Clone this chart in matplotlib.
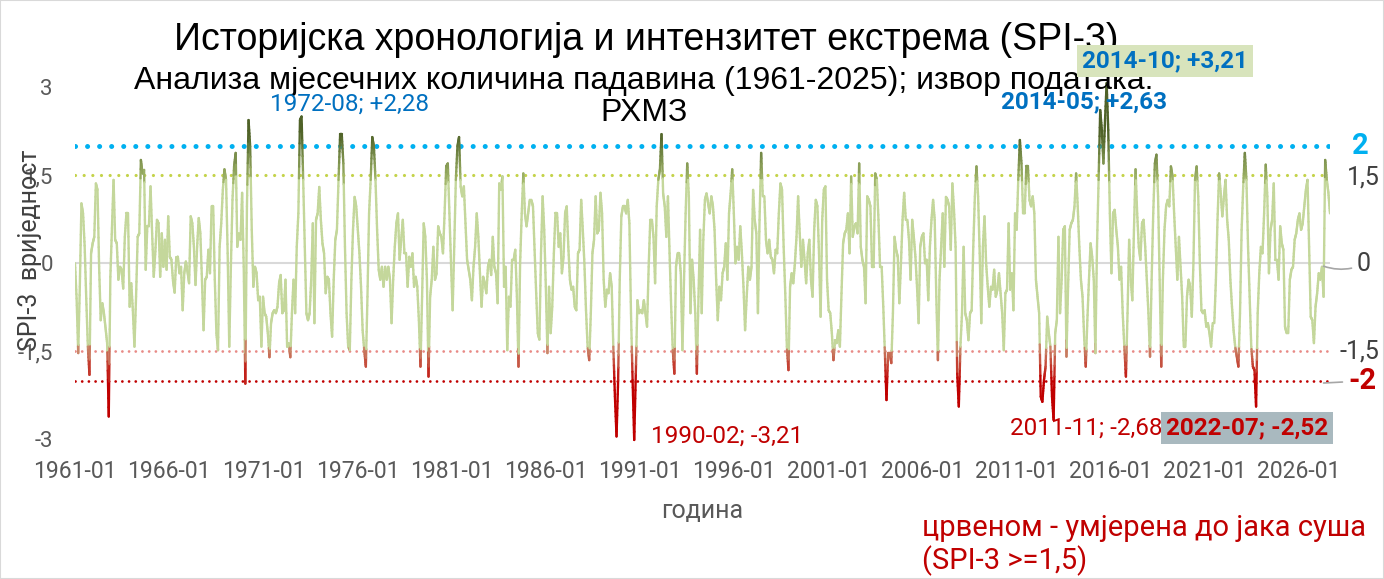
import numpy as np
import pandas as pd
import matplotlib
matplotlib.use('Agg')
import matplotlib.pyplot as plt
from matplotlib.collections import LineCollection
from matplotlib.colors import to_rgb

# SPI-3, monthly values (1961-01 onward)
spi_1961_1966 = [0.0, -0.6, -1.53, -0.4, 1.02, 0.85, 0.3, -0.6, -1.42, -1.9, 0.17, 0.34,
                 0.45, 1.36, 1.25, -0.05, -0.97, -0.68, -0.85, -1.1, -1.36, -2.61, -0.23, 0.6,
                 1.42, 0.4, 0.34, -0.28, -0.06, -0.11, -0.43, 0.45, 0.85, 0.85, -0.74, -0.34,
                 -0.8, -1.42, -0.57, 0.45, 0.51, 1.76, 1.53, 1.59, -0.11, 0.63, 0.63, 1.31,
                 0.51, -0.23, 0.2, 0.74, 0.68, -0.23, 0.51, -0.06, 0.4, -0.11, 0.8, 0.11,
                 0.06, -0.3, -0.5, 0.1]
spi_1966_1971 = [0.11, -0.17, -0.06, -0.8, -0.17, 0.03, -0.14, -0.34, 0.8, 0.68, 0.28, -0.37,
                 0.28, 0.77, 0.51, -0.28, -1.14, -0.28, -0.23, 0.23, -0.17, 0.97, 0.97, -0.28,
                 -1.19, -1.48, 0.28, 0.68, 1.25, 1.6, 1.42, 0.17, -1.42, -0.06, 1.08, 1.65,
                 1.88, 0.28, 0.51, 0.4, 1.2, -0.06, -2.05, 0.97, 2.44, 1.99, 0.57, -0.4,
                 -0.06, -0.17, -0.63, -0.57, -1.42, -0.57, -0.85, -0.91, -1.19, -1.6, -1.02, -0.85,
                 -0.8, -0.85, -0.74, -0.34, -0.2]
spi_1971_1977 = [-0.85, -0.8, -0.28, -1.42, -1.36, -1.6, -0.85, -0.28, -0.85, 0.28, 0.85, 2.44,
                 2.5, 1.42, 0.28, -0.85, -0.97, -0.85, -0.28, 0.68, -1.02, 0.74, 0.85, 1.3,
                 0.74, 0.34, 0.17, -0.51, -0.23, -0.28, -0.85, -1.25, -0.28, 0.4, 0.57, 1.42,
                 2.2, 2.2, 1.7, 0.28, -0.85, -1.42, -1.48, -0.28, 0.57, 1.13, 0.97, 0.57,
                 0.17, -0.4, -1.14, -1.48, -1.76, -0.57, 0.85, 1.42, 2.15, 1.99, 1.42, 0.57,
                 -0.11, -0.28, -0.06, -0.4, -0.06]
spi_1977_1982 = [-0.28, -0.06, -0.28, -1.02, -0.28, 0.28, 0.68, 0.85, 0.06, 0.4, 0.74, 0.17,
                 0.17, -0.4, 0.11, -0.06, 0.17, -0.4, -0.23, -0.4, -0.97, -1.76, -0.57, 0.68,
                 0.45, -0.28, -1.93, -0.57, -0.28, 0.28, -0.28, -0.17, 0.63, 0.51, 0.45, 0.17,
                 0.85, 1.65, 1.7, 0.85, 0.0, -0.8, 0.28, 1.42, 1.99, 2.15, 1.31, 1.14,
                 1.31, 0.68, 0.06, -0.11, -0.28, -0.63, -0.06, 0.28, 0.85, 0.45, -0.17, -0.74,
                 -0.23, -0.34, -0.51, -0.06, 0.06, -0.2]
spi_1982_1987 = [0.45, -0.06, -0.17, -0.68, 1.36, 1.25, 1.48, -0.4, -0.06, -1.48, -0.57, -0.74,
                 0.06, 0.06, 0.23, -0.57, -1.76, 0.0, 0.85, 1.53, 0.85, 0.63, 0.85, 1.08,
                 1.08, 0.97, 0.23, -0.51, -1.19, -1.3, 0.17, 1.14, 0.57, -0.4, -1.53, -0.4,
                 -1.19, -0.74, 0.17, 0.85, 0.85, 0.28, 0.51, -0.17, 0.11, 0.85, 0.97, 0.28,
                 -0.28, -0.45, -0.4, -0.74, -0.8, 0.17, 0.23, 1.08, 0.57, 0.0, -0.8, -1.42,
                 -1.65, -0.85, 0.17, 0.4, 1.14]
spi_1987_1993 = [0.51, 0.57, 1.2, 0.85, -0.28, -0.74, -0.45, -0.51, -0.17, -0.4, -1.42, -2.27,
                 -2.95, -1.99, -0.28, 0.8, 0.97, 0.97, 0.85, 1.08, 0.68, -0.85, -1.99, -3.01,
                 -1.88, -0.63, -0.85, -0.8, -0.85, -0.63, -0.85, -1.08, -0.06, 0.74, 0.74, 0.45,
                 -0.34, 0.97, 1.42, 1.6, 2.2, 1.19, 0.97, 0.45, 1.14, 0.17, -0.74, -1.48,
                 -1.88, -0.06, 0.17, 0.17, -0.17, -1.48, -0.28, 0.85, 1.7, 1.14, -0.85, 0.06,
                 -0.28, -0.85, -1.88, -0.57, 0.57]
spi_1993_1998 = [-0.85, 0.4, 1.08, 1.19, 1.02, 0.85, 1.14, 0.97, 0.57, -0.28, -0.97, -0.4,
                 -0.63, -0.17, -0.06, 0.34, -0.28, 0.85, 1.19, 1.6, 0.85, 0.0, 0.28, 0.06,
                 0.63, 0.17, -0.4, -1.14, -0.57, -0.06, -0.28, -0.06, 1.25, 0.74, 0.51, -0.85,
                 0.74, 1.88, 1.14, 1.14, 0.4, 0.17, 0.4, 0.11, 0.06, -0.17, 0.23, 0.17,
                 0.85, 1.36, 1.25, 0.28, -0.51, -1.42, -1.82, -0.4, -0.17, -0.34, 0.0, 0.45,
                 1.14, 0.51, -0.06, 0.4, 0.06]
spi_1998_2004 = [-0.34, 0.17, 0.4, -0.28, -0.57, 0.57, 1.08, 0.97, 0.17, -0.91, 0.74, 1.25,
                 1.31, -0.28, -0.8, -0.85, -1.19, -1.65, -1.31, -1.36, -1.14, -1.42, -0.51, 0.34,
                 0.51, 0.57, 0.85, 0.17, 1.48, 0.45, 0.63, 0.68, 0.51, 1.7, 0.28, 0.06,
                 -0.06, -0.68, 1.14, 1.08, 0.97, -0.06, -0.06, 1.53, 1.42, 0.74, -0.06, -0.06,
                 -0.74, -1.53, -2.33, -1.53, -1.53, -1.7, -0.85, 0.45, 0.23, 0.11, -0.68, 0.0,
                 0.74, 1.2, 0.74, 0.74, 0.4, -0.28]
spi_2004_2009 = [0.74, 0.45, 0.11, -0.4, -1.02, 0.28, 0.45, 0.51, 0.0, 0.06, -0.63, 0.28,
                 0.74, 1.08, 0.74, -0.57, -1.65, -0.28, 0.28, 0.85, -0.06, 1.13, 1.08, 0.97,
                 0.23, 1.36, 0.91, 0.28, -1.88, -2.44, -1.42, -0.85, 0.28, -0.85, -0.97, -1.31,
                 -0.85, -0.8, 0.28, 1.14, 1.65, 1.14, 0.17, -1.02, 0.28, 0.8, 0.0, -0.4,
                 -0.74, -0.4, -0.45, -0.11, -0.57, -0.45, -0.17, -0.51, -0.85, -1.48, -0.51, -0.45,
                 0.68, -0.45, -0.17, -0.8, 0.85]
spi_2009_2015 = [0.57, 1.42, 2.1, 1.7, 0.85, 0.85, 1.65, 1.65, 1.08, 0.97, 1.14, 0.85,
                 -0.28, -0.57, -0.85, -2.27, -2.36, -1.99, -1.76, -0.91, -1.19, -1.42, -2.27, -2.67,
                 -1.19, -0.97, 0.45, -0.85, -0.28, 0.57, 0.63, -1.59, -0.4, 0.57, 0.68, 0.74,
                 0.97, 1.53, 0.97, 0.28, -0.28, -0.57, -1.25, -1.76, -0.97, -0.28, 0.34, 0.11,
                 -0.28, -1.53, 0.28, 1.42, 2.61, 2.27, 1.7, 2.44, 3.07, 2.27, 0.85, -0.17,
                 0.85, 0.91, 0.57, 0.28, -0.28]
spi_2015_2020 = [-0.06, -0.85, -1.42, -1.93, -0.85, 0.4, -0.28, -0.63, 0.57, 1.6, 0.85, 0.28,
                 0.06, 0.68, 0.74, 0.28, -0.28, -0.85, -1.59, -0.28, 0.85, 1.7, 1.85, 1.14,
                 -0.28, -1.76, -0.28, 0.57, 0.97, 1.08, 0.97, 1.65, 1.48, 0.85, 0.28, -0.28,
                 0.45, -0.06, -0.57, -1.42, -1.42, -0.57, -0.28, -0.4, -0.91, 0.0, 1.42, 1.65,
                 1.14, 0.0, -0.8, -0.85, -0.8, -1.08, -1.02, -1.19, -1.42, -1.02, -1.02, -0.28,
                 0.74, 1.53, 1.19, 0.8, 1.14]
spi_2020_2025 = [1.42, 0.74, 0.4, -0.28, -0.74, -1.14, -1.42, -1.59, -1.76, -0.85, 0.57, 1.31,
                 1.88, 1.42, 0.28, -0.57, -1.42, -1.76, -1.82, -2.44, -0.85, -0.17, 0.28, 0.17,
                 0.85, 1.68, 1.14, -0.17, 0.57, 0.74, 1.36, 0.06, 0.06, -0.28, 0.63, 0.34,
                 0.23, -1.08, -1.19, -1.19, -0.28, -0.11, -0.06, 0.4, 0.51, 0.74, 0.85, 0.57,
                 0.68, 0.97, 1.25, 1.42, 0.28, -0.91, -0.97, -1.36, -0.74, -0.51, -0.17, -0.28,
                 -0.06, -0.57, 1.76, 1.42, 1.2, 0.85]

x_tick_labels = ['1961-01', '1966-01', '1971-01', '1976-01', '1981-01', '1986-01', '1991-01',
                 '1996-01', '2001-01', '2006-01', '2011-01', '2016-01', '2021-01', '2026-01']
y_ticks = [3, 1.5, 0, -1.5, -3]
y_tick_labels = ['3', '1,5', '0', '-1,5', '-3']

spi = np.array(spi_1961_1966 + spi_1966_1971 + spi_1971_1977 + spi_1977_1982 +
               spi_1982_1987 + spi_1987_1993 + spi_1993_1998 + spi_1998_2004 +
               spi_2004_2009 + spi_2009_2015 + spi_2015_2020 + spi_2020_2025)
n = len(spi)
months = pd.date_range('1961-01', periods=n, freq='MS')
x = np.arange(n)

LIGHT = np.array(to_rgb('#c4d79b'))
OLIVE = np.array(to_rgb('#a3b86c'))
DARK = np.array(to_rgb('#4f6228'))
BROWN = np.array(to_rgb('#c98a6c'))
RED = np.array(to_rgb('#c00000'))


def colour_for(v):
    if v >= 1.4:
        t = min((v - 1.4) / 0.8, 1.0)
        return OLIVE * (1 - t) + DARK * t
    if v <= -1.45:
        t = min((-v - 1.45) / 0.55, 1.0)
        return BROWN * (1 - t) + RED * t
    return LIGHT


# split each segment into short pieces so colour follows the height
segs, cols = [], []
for i in range(n - 1):
    tt = np.linspace(0, 1, 9)
    px = x[i] + (x[i + 1] - x[i]) * tt
    py = spi[i] + (spi[i + 1] - spi[i]) * tt
    for j in range(len(tt) - 1):
        segs.append([(px[j], py[j]), (px[j + 1], py[j + 1])])
        cols.append(colour_for((py[j] + py[j + 1]) / 2))

W, H = 1384, 579
fig = plt.figure(figsize=(W / 100, H / 100), dpi=100)
ax = fig.add_axes([75 / W, 1 - 450 / H, 1255 / W, 390 / H])
ax.set_xlim(0, n - 1)
ax.set_ylim(-3.181, 3.463)
for s in ax.spines.values():
    s.set_visible(False)

ax.axhline(0, color='#d9d9d9', lw=1.5, zorder=1)
ax.axhline(2, color='#00b0f0', lw=3.6, ls=(0, (0.01, 2.4)), dash_capstyle='round', zorder=1)
ax.axhline(1.5, color='#c4d34a', lw=2.3, ls=(0, (0.01, 2.7)), dash_capstyle='round', zorder=1)
ax.axhline(-1.5, color='#e88a86', lw=2.0, ls=(0, (0.01, 2.4)), dash_capstyle='round', zorder=1)
ax.axhline(-2, color='#c00000', lw=2.0, ls=(0, (0.01, 2.4)), dash_capstyle='round', zorder=1)

lc = LineCollection(segs, colors=cols, linewidths=1.7, capstyle='round', zorder=3)
ax.add_collection(lc)

tick_step = 58.6
ax.set_xticks(np.arange(len(x_tick_labels)) * tick_step)
ax.set_xticklabels(x_tick_labels)
ax.set_yticks(y_ticks)
ax.set_yticklabels(y_tick_labels)
ax.tick_params(axis='x', length=0, pad=7, labelsize=16.5, labelcolor='#595959')
ax.tick_params(axis='y', length=0, pad=16, labelsize=16, labelcolor='#595959')
for lab in ax.get_xticklabels() + ax.get_yticklabels():
    lab.set_fontfamily('Roboto')

ax.set_xlabel('година', fontsize=18, color='#595959', family='Roboto', labelpad=12)
fig.text(30 / W, 1 - 250 / H, 'SPI-3  вриједност', rotation=90, fontsize=18, color='#404040',
         family='Roboto', ha='center', va='center')

fig.text(646 / W, 1 - 40 / H, 'Историјска хронологија и интензитет екстрема (SPI-3)',
         fontsize=27, family='Liberation Sans', ha='center', va='center')
fig.text(644 / W, 1 - 97 / H,
         'Анализа мјесечних количина падавина (1961-2025); извор података:\nРХМЗ',
         fontsize=23, family='Liberation Sans', ha='center', va='center', linespacing=1.13)

# right-side labels for the reference lines
fig.text(1352 / W, 1 - 146 / H, '2', fontsize=21, color='#00b0f0', weight='bold', family='Roboto',
         ha='left', va='center')
fig.text(1347 / W, 1 - 177 / H, '1,5', fontsize=18, color='#404040', family='Roboto',
         ha='left', va='center')
fig.text(1339 / W, 1 - 352 / H, '-1,5', fontsize=18, color='#404040', family='Roboto',
         ha='left', va='center')
ax.annotate('0', xy=(n - 5, -0.05), xytext=(1357, H - 264), textcoords='figure pixels',
            fontsize=18, color='#404040', family='Roboto', va='center',
            arrowprops=dict(arrowstyle='-', color='#a6a6a6', lw=1.2,
                            connectionstyle='arc3,rad=-0.2', shrinkA=2, shrinkB=0))
ax.annotate('-2', xy=(n - 5, -2.04), xytext=(1348, H - 381), textcoords='figure pixels',
            fontsize=21, color='#c00000', weight='bold', family='Roboto', va='center',
            arrowprops=dict(arrowstyle='-', color='#a6a6a6', lw=1.2, shrinkA=2, shrinkB=0))

# extreme labels
fig.text(349 / W, 1 - 104 / H, '1972-08; +2,28', fontsize=17.5, color='#0070c0', family='Roboto',
         ha='center', va='center')
fig.text(1084 / W, 1 - 102 / H, '2014-05; +2,63', fontsize=17.5, color='#0070c0', weight='bold',
         family='Roboto', ha='center', va='center')
fig.text(1165 / W, 1 - 61 / H, '2014-10; +3,21', fontsize=17.5, color='#0070c0', weight='bold',
         family='Roboto', ha='center', va='center',
         bbox=dict(boxstyle='square,pad=0.2', fc='#d8e4bc', ec='none'))
fig.text(727 / W, 1 - 436 / H, '1990-02; -3,21', fontsize=17.5, color='#c00000', family='Roboto',
         ha='center', va='center')
fig.text(1086 / W, 1 - 428 / H, '2011-11; -2,68', fontsize=17.5, color='#c00000', family='Roboto',
         ha='center', va='center')
fig.text(1247 / W, 1 - 428 / H, '2022-07; -2,52', fontsize=17.5, color='#c00000', weight='bold',
         family='Roboto', ha='center', va='center',
         bbox=dict(boxstyle='square,pad=0.2', fc='#a9b9bf', ec='none'))

fig.text(922 / W, 1 - 545 / H, 'црвеном - умјерена до јака суша\n(SPI-3 >=1,5)', fontsize=21,
         color='#c00000', family='Roboto', ha='left', va='center', linespacing=1.15)

fig.patches.append(plt.Rectangle((0, 0), 1, 1, transform=fig.transFigure, fill=False,
                                 ec='#d9d9d9', lw=1.5))

fig.savefig('out.png', dpi=100)
